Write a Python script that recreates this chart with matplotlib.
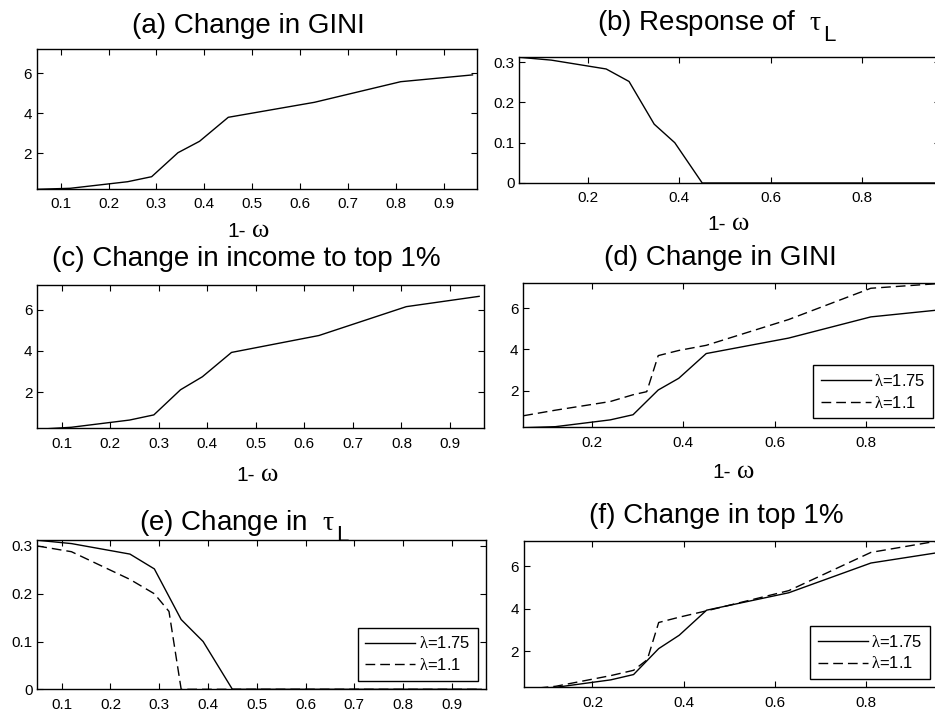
import numpy as np
import matplotlib
matplotlib.use('Agg')
import matplotlib.pyplot as plt
from matplotlib.ticker import StrMethodFormatter

plt.rcParams['font.family'] = ['Liberation Sans', 'DejaVu Sans']
plt.rcParams['mathtext.fontset'] = 'custom'
plt.rcParams['mathtext.rm'] = 'Liberation Serif'
plt.rcParams['mathtext.it'] = 'Liberation Serif'
plt.rcParams['mathtext.sf'] = 'Liberation Sans'

# ---- data
omega_a = [0.05, 0.12, 0.24, 0.29, 0.345, 0.39, 0.45, 0.63, 0.81, 0.96]     # lambda=1.75 grid
gini_175 = [0.2, 0.25, 0.58, 0.83, 2.03, 2.6, 3.8, 4.55, 5.58, 5.92]
top1_175 = [0.2, 0.3, 0.65, 0.9, 2.12, 2.75, 3.93, 4.75, 6.15, 6.65]
tau_175 = [0.312, 0.305, 0.283, 0.252, 0.146, 0.10, 0.0, 0.0, 0.0, 0.0]

omega_b = [0.05, 0.12, 0.24, 0.29, 0.32, 0.345, 0.39, 0.45, 0.63, 0.81, 0.96]  # lambda=1.1 grid
gini_11 = [0.78, 1.05, 1.47, 1.8, 1.95, 3.7, 3.95, 4.2, 5.45, 6.97, 7.2]
top1_11 = [0.2, 0.35, 0.85, 1.1, 1.6, 3.35, 3.6, 3.9, 4.85, 6.65, 7.2]
tau_11 = [0.30, 0.288, 0.23, 0.20, 0.163, 0.0, 0.0, 0.0, 0.0, 0.0, 0.0]

lab_175 = r'$\lambda$=1.75'
lab_11 = r'$\lambda$=1.1'

W, H = 935, 714
fig = plt.figure(figsize=(W/100, H/100), dpi=100)
renderer = fig.canvas.get_renderer()

def px_axes(l, t, r, b):
    # axes box given in pixels (left, top, right, bottom)
    return fig.add_axes([l/W, 1-b/H, (r-l)/W, (b-t)/H])

def style(ax, xt, yt, ylim):
    ax.set_xlim(0.05, 0.97)
    ax.set_ylim(ylim)
    ax.set_xticks(xt)
    ax.set_yticks(yt)
    ax.xaxis.set_major_formatter(StrMethodFormatter('{x:g}'))
    ax.yaxis.set_major_formatter(StrMethodFormatter('{x:g}'))
    ax.tick_params(direction='in', top=True, right=True, length=4, width=0.8, labelsize=11)
    ax.tick_params(axis='x', pad=6)
    for s in ax.spines.values():
        s.set_linewidth(1.0)

def leg(ax, x, y):
    lg = ax.legend(loc='lower right', bbox_to_anchor=(x/W, 1-y/H), bbox_transform=fig.transFigure,
                   borderaxespad=0, fancybox=False, edgecolor='black', framealpha=1, fontsize=12,
                   handlelength=3.0, handletextpad=0.2, borderpad=0.45, labelspacing=0.35)
    lg.get_frame().set_linewidth(1.0)

xt_l = [0.1, 0.2, 0.3, 0.4, 0.5, 0.6, 0.7, 0.8, 0.9]
xt_r = [0.2, 0.4, 0.6, 0.8]
dash = (0, (7, 3.6))

# --------- (a)
ax = px_axes(36.7, 49.3, 477.3, 188.7)
ax.plot(omega_a, gini_175, 'k-', lw=1.0)
style(ax, xt_l, [2, 4, 6], (0.23, 7.2))

# --------- (b)
ax = px_axes(519.3, 57.3, 940, 183)
ax.plot(omega_a, tau_175, 'k-', lw=1.0)
style(ax, xt_r, [0, 0.1, 0.2, 0.3], (0, 0.312))

# --------- (c)
ax = px_axes(37.3, 285, 484, 428.3)
ax.plot(omega_a, top1_175, 'k-', lw=1.0)
style(ax, xt_l, [2, 4, 6], (0.25, 7.2))

# --------- (d)
ax = px_axes(523.3, 282.7, 944, 427.3)
ax.plot(omega_a, gini_175, 'k-', lw=1.0, label=lab_175)
ax.plot(omega_b, gini_11, color='k', ls=dash, lw=1.0, label=lab_11)
style(ax, xt_r, [2, 4, 6], (0.22, 7.24))
leg(ax, 933, 418)

# --------- (e)
ax = px_axes(37.3, 540, 486, 689.3)
ax.plot(omega_a, tau_175, 'k-', lw=1.0, label=lab_175)
ax.plot(omega_b, tau_11, color='k', ls=dash, lw=1.0, label=lab_11)
style(ax, xt_l, [0, 0.1, 0.2, 0.3], (0, 0.3125))
leg(ax, 477.7, 680.7)

# --------- (f)
ax = px_axes(524, 540.7, 944, 687.3)
ax.plot(omega_a, top1_175, 'k-', lw=1.0, label=lab_175)
ax.plot(omega_b, top1_11, color='k', ls=dash, lw=1.0, label=lab_11)
style(ax, xt_r, [2, 4, 6], (0.3, 7.2))
leg(ax, 930, 679)

# --------- titles (left edge px, baseline px, subscript L?)
titles = [('(a) Change in GINI', 132, 33, False),
          (r'(b) Response of  $\tau$', 597, 30, True),
          ('(c) Change in income to top 1%', 52, 266, False),
          ('(d) Change in GINI', 604, 265, False),
          (r'(e) Change in  $\tau$', 139, 530, True),
          ('(f) Change in top 1%', 589, 523.3, False)]
for txt, x, y, sub in titles:
    t = fig.text(x/W, 1-y/H, txt, ha='left', va='baseline', fontsize=20, zorder=-1)
    if sub:
        bb = t.get_window_extent(renderer)
        fig.text((bb.x1+1)/W, 1-(y+11)/H, 'L', ha='left', va='baseline', fontsize=16, zorder=-1)

# --------- x labels "1- w" (centre px, baseline px)
for x, y in [(248, 237), (728, 230), (257, 481), (733, 478)]:
    t1 = fig.text(0, 1-y/H, '1-', ha='left', va='baseline', fontsize=15)
    t2 = fig.text(0, 1-y/H, 'ω', ha='left', va='baseline', fontsize=19,
                  family=['Liberation Serif', 'DejaVu Serif'])
    w1 = t1.get_window_extent(renderer).width
    w2 = t2.get_window_extent(renderer).width
    gap = 6
    x0 = x - (w1+gap+w2)/2
    t1.set_x(x0/W)
    t2.set_x((x0+w1+gap)/W)

plt.savefig('out.png', dpi=100)
